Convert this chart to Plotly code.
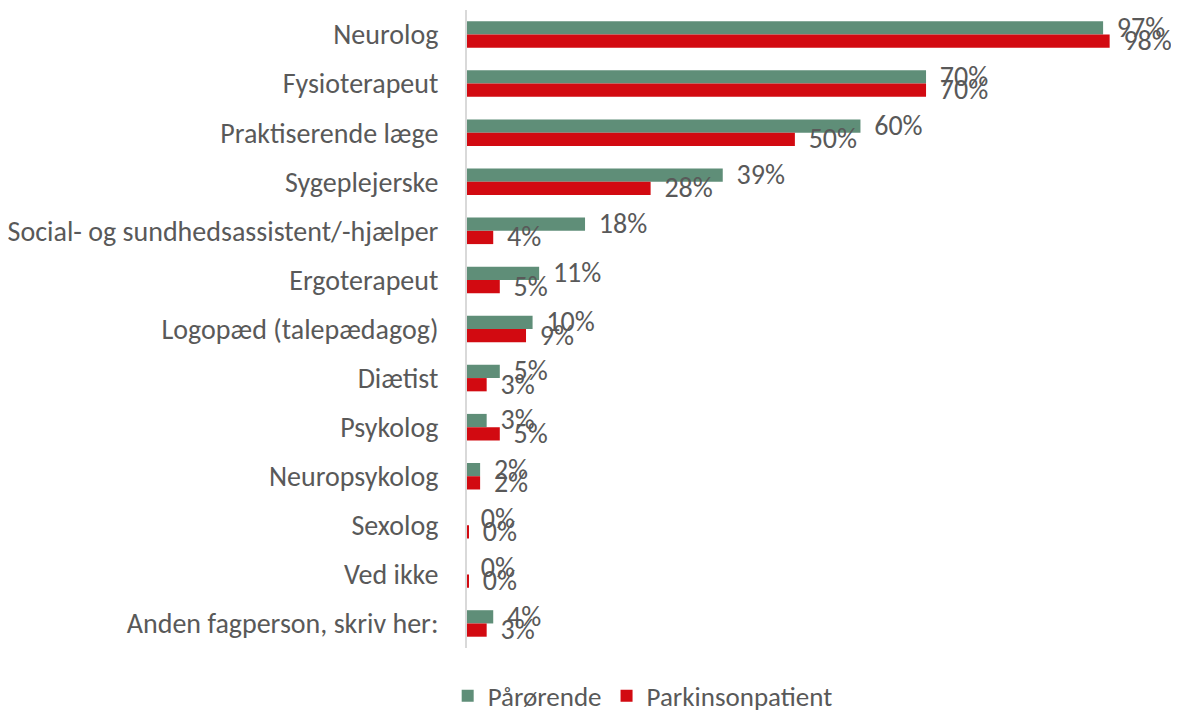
import plotly.graph_objects as go

categories = ["Neurolog", "Fysioterapeut", "Praktiserende læge", "Sygeplejerske",
              "Social- og sundhedsassistent/-hjælper", "Ergoterapeut",
              "Logopæd (talepædagog)", "Diætist", "Psykolog", "Neuropsykolog",
              "Sexolog", "Ved ikke", "Anden fagperson, skriv her:"]
paaroerende = [97, 70, 60, 39, 18, 11, 10, 5, 3, 2, 0, 0, 4]
parkinsonpatient = [98, 70, 50, 28, 4, 5, 9, 3, 5, 2, 0.3, 0.3, 3]
paaroerende_labels = ["97%", "70%", "60%", "39%", "18%", "11%", "10%", "5%", "3%", "2%", "0%", "0%", "4%"]
parkinson_labels = ["98%", "70%", "50%", "28%", "4%", "5%", "9%", "3%", "5%", "2%", "0%", "0%", "3%"]

FONT = "Calibri, Carlito, Lato, sans-serif"
TXT = "#595959"
GREEN = "#5f8e78"
RED = "#d20a11"
BARGAP = 0.46
half = (1 - BARGAP) / 4   # offset of each bar's centre from the category centre
LABEL_PAD = 2.1           # gap between bar end and its value label, in axis units
LABEL_DY = 0.04           # labels sit a little below the bar centre

pos = list(range(len(categories)))

fig = go.Figure()
fig.add_trace(go.Bar(
    y=pos, x=paaroerende, name="Pårørende", orientation="h",
    marker_color=GREEN, marker_line_width=0,
))
fig.add_trace(go.Bar(
    y=pos, x=parkinsonpatient, name="Parkinsonpatient", orientation="h",
    marker_color=RED, marker_line_width=0,
))
# value labels (drawn as text so they are not shrunk to the bar thickness)
fig.add_trace(go.Scatter(
    x=[v + LABEL_PAD for v in paaroerende], y=[p - half + LABEL_DY for p in pos], mode="text",
    text=paaroerende_labels, textposition="middle right",
    textfont=dict(size=28, color=TXT, family=FONT),
    showlegend=False, hoverinfo="skip", cliponaxis=False,
))
fig.add_trace(go.Scatter(
    x=[v + LABEL_PAD for v in parkinsonpatient], y=[p + half + LABEL_DY for p in pos], mode="text",
    text=parkinson_labels, textposition="middle right",
    textfont=dict(size=28, color=TXT, family=FONT),
    showlegend=False, hoverinfo="skip", cliponaxis=False,
))

# the page body adds an 8px margin, so the figure is 8px smaller and shifted
fig.update_layout(
    width=1171, height=708,
    barmode="group", bargap=BARGAP, bargroupgap=0,
    plot_bgcolor="white", paper_bgcolor="white",
    margin=dict(l=459, r=30, t=2, b=68, autoexpand=False),
    font=dict(family=FONT, size=28, color=TXT),
    legend=dict(orientation="h", xref="container", x=0.542, xanchor="center",
                yref="container", y=0.028, yanchor="middle",
                font=dict(size=27, color=TXT), traceorder="normal", itemwidth=30),
)
fig.update_yaxes(autorange=False, range=[len(categories) - 0.5, -0.5],
                 tickmode="array", tickvals=pos, ticktext=categories,
                 showline=True, linecolor="#d9d9d9", linewidth=2,
                 ticks="", showgrid=False, zeroline=False, ticklabelstandoff=21,
                 tickfont=dict(size=28, color=TXT, family=FONT))
fig.update_xaxes(range=[0, 104], visible=False, showgrid=False, zeroline=False)

fig.write_html("out.html")
